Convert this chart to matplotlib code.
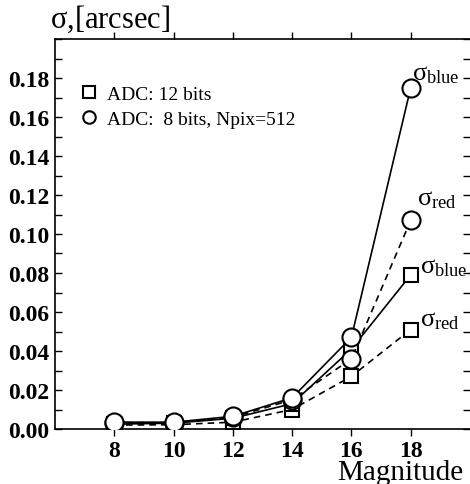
import matplotlib.pyplot as plt
from matplotlib.lines import Line2D
from matplotlib.ticker import MultipleLocator

plt.rcParams['font.family'] = 'Liberation Serif'
plt.rcParams['mathtext.fontset'] = 'custom'
plt.rcParams['mathtext.rm'] = 'Liberation Serif'
plt.rcParams['mathtext.it'] = 'Liberation Serif'
plt.rcParams['mathtext.bf'] = 'Liberation Serif:bold'

# magnitudes
magnitude = [8, 10, 12, 14, 16, 18]

# ADC 8 bits, Npix=512 (circles)
circ_blue = [0.0035, 0.0035, 0.0065, 0.016, 0.047, 0.175]
circ_red = [0.0033, 0.0032, 0.006, 0.015, 0.036, 0.107]

# ADC 12 bits (squares)
sq_blue = [0.0025, 0.003, 0.0055, 0.013, 0.041, 0.079]
sq_red = [0.002, 0.0022, 0.0035, 0.010, 0.027, 0.051]

labels = [r"$\sigma_{\rm blue}$", r"$\sigma_{\rm red}$", r"$\sigma_{\rm blue}$", r"$\sigma_{\rm red}$"]
label_pos = [(18.05, 0.182), (18.2, 0.118), (18.3, 0.083), (18.3, 0.056)]

fig = plt.figure(figsize=(4.7, 4.85), dpi=100)
ax = fig.add_axes([55 / 470, 1 - 430 / 485, 1 - 55 / 470, 390 / 485])

lw = 1.2
ax.plot(magnitude, sq_red, ls=(0, (4, 3)), color="black", lw=lw, marker="s", ms=10,
        mfc="white", mec="black", mew=1.5, zorder=2)
ax.plot(magnitude, sq_blue, ls="-", color="black", lw=lw, marker="s", ms=10,
        mfc="white", mec="black", mew=1.5, zorder=2)
ax.plot(magnitude, circ_red, ls=(0, (4, 3)), color="black", lw=lw, marker="o", ms=13,
        mfc="white", mec="black", mew=1.5, zorder=3)
ax.plot(magnitude, circ_blue, ls="-", color="black", lw=lw, marker="o", ms=13,
        mfc="white", mec="black", mew=1.5, zorder=3)

for txt, (x, y) in zip(labels, label_pos):
    ax.text(x, y, txt, fontsize=19, ha="left", va="center")

ax.set_xlim(6, 20)
ax.set_ylim(0, 0.2)
ax.set_xticks(magnitude)
ax.set_yticks([0.0, 0.02, 0.04, 0.06, 0.08, 0.10, 0.12, 0.14, 0.16, 0.18])
ax.yaxis.set_minor_locator(MultipleLocator(0.01))
ax.set_yticklabels([f"{v:.2f}" for v in ax.get_yticks()])

ax.tick_params(axis="x", which="major", direction="out", length=5, width=1,
               top=True, labelsize=17, pad=3)
ax.tick_params(axis="y", which="both", direction="in", length=5, width=1,
               right=True, labelsize=17, pad=4)
for lab in ax.get_xticklabels() + ax.get_yticklabels():
    lab.set_fontweight("bold")
ax.spines["right"].set_visible(False)
for s in ["left", "top", "bottom"]:
    ax.spines[s].set_linewidth(1.2)

handles = [
    Line2D([], [], ls="none", marker="s", ms=8, mfc="white", mec="black", mew=1.5),
    Line2D([], [], ls="none", marker="o", ms=9, mfc="white", mec="black", mew=1.5),
]
ax.legend(handles, ["ADC: 12 bits", "ADC:  8 bits, Npix=512"], loc="upper left",
          bbox_to_anchor=(0.055, 0.882), frameon=False, fontsize=14,
          borderaxespad=0, borderpad=0,
          handletextpad=0.3, handlelength=1.2, labelspacing=0.41)

fig.text(50 / 470, 1 - 19 / 485, r"$\sigma$,[arcsec]", fontsize=22, ha="left", va="center")
fig.text(463 / 470, 1 - 480 / 485, "Magnitude", fontsize=21, ha="right", va="baseline")

fig.savefig("out.png", dpi=100)
